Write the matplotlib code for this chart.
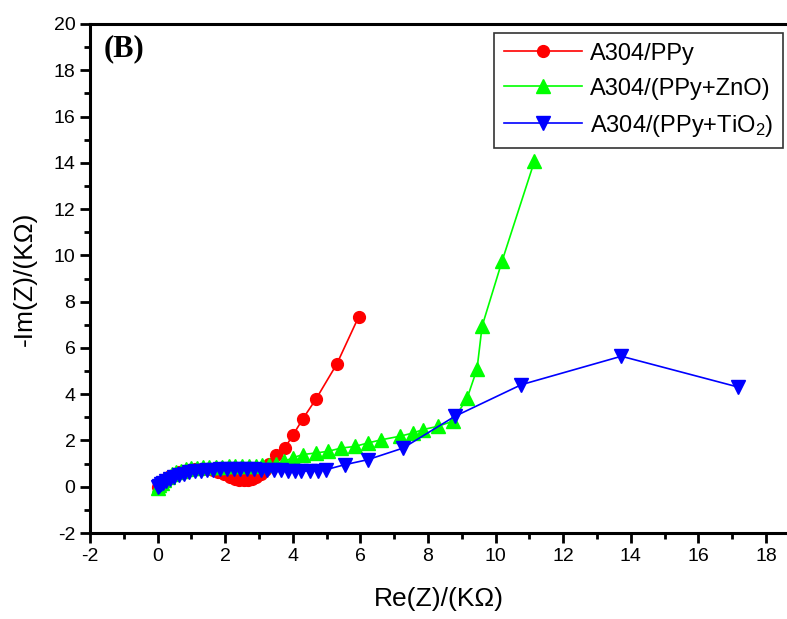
import matplotlib
matplotlib.use("Agg")
import matplotlib.pyplot as plt
from matplotlib.ticker import MultipleLocator

plt.rcParams['font.family'] = ['Liberation Sans', 'DejaVu Sans']
plt.rcParams['mathtext.default'] = 'regular'
plt.rcParams['axes.unicode_minus'] = False

# A304/PPy
ppy_x = [0.0, 0.05, 0.1, 0.18, 0.27, 0.38, 0.5, 0.63, 0.78, 0.93, 1.1, 1.27, 1.45, 1.63,
         1.8, 1.97, 2.13, 2.28, 2.42, 2.55, 2.68, 2.8, 2.92, 3.05, 3.18, 3.31, 3.51, 3.76,
         4.0, 4.29, 4.69, 5.3, 5.95]
ppy_y = [0.0, 0.1, 0.18, 0.28, 0.38, 0.48, 0.57, 0.64, 0.7, 0.74, 0.77, 0.78, 0.77, 0.72,
         0.64, 0.53, 0.42, 0.34, 0.29, 0.27, 0.28, 0.32, 0.4, 0.53, 0.74, 1.0, 1.38, 1.67,
         2.22, 2.92, 3.8, 5.3, 7.35]

# A304/(PPy+ZnO)
zno_x = [0.0, 0.05, 0.12, 0.2, 0.3, 0.42, 0.55, 0.7, 0.85, 1.0, 1.17, 1.35, 1.53, 1.72,
         1.9, 2.1, 2.3, 2.5, 2.7, 2.9, 3.1, 3.3, 3.5, 3.75, 4.0, 4.29, 4.69, 5.04, 5.43,
         5.83, 6.22, 6.62, 7.16, 7.55, 7.85, 8.29, 8.73, 9.16, 9.45, 9.6, 10.19, 11.15]
zno_y = [-0.05, 0.08, 0.18, 0.3, 0.42, 0.53, 0.62, 0.7, 0.76, 0.8, 0.83, 0.85, 0.86, 0.87,
         0.87, 0.88, 0.88, 0.88, 0.89, 0.9, 0.92, 0.95, 1.0, 1.1, 1.25, 1.39, 1.46, 1.53,
         1.67, 1.74, 1.89, 2.03, 2.18, 2.32, 2.47, 2.61, 2.83, 3.84, 5.09, 6.94, 9.75, 14.08]

# A304/(PPy+TiO2)
tio_x = [0.0, 0.04, 0.09, 0.16, 0.25, 0.36, 0.48, 0.62, 0.77, 0.93, 1.1, 1.28, 1.46, 1.65,
         1.85, 2.05, 2.25, 2.45, 2.65, 2.85, 3.05, 3.25, 3.45, 3.65, 3.85, 4.05, 4.25, 4.5,
         4.75, 4.99, 5.53, 6.22, 7.26, 8.79, 10.76, 13.72, 17.17]
tio_y = [0.0, 0.05, 0.1, 0.17, 0.25, 0.33, 0.41, 0.49, 0.56, 0.62, 0.66, 0.7, 0.72, 0.74,
         0.75, 0.76, 0.76, 0.76, 0.76, 0.75, 0.74, 0.73, 0.72, 0.71, 0.7, 0.69, 0.68, 0.68,
         0.7, 0.74, 0.95, 1.17, 1.67, 3.04, 4.41, 5.64, 4.31]

fig = plt.figure(figsize=(7.87, 6.19), dpi=100)
ax = fig.add_axes([90 / 787, 86 / 619, 1 - 90 / 787, 509 / 619])

ax.plot(ppy_x, ppy_y, color='#ff0000', marker='o', markersize=8.5, lw=1.2,
        label='A304/PPy')
ax.plot(zno_x, zno_y, color='#00ff00', marker='^', markersize=10, lw=1.2,
        label='A304/(PPy+ZnO)')
ax.plot(tio_x, tio_y, color='#0000ff', marker='v', markersize=10, lw=1.2,
        label='A304/(PPy+TiO$_2$)')

ax.set_xlim(-2, 18.62)
ax.set_ylim(-2, 20)
ax.xaxis.set_major_locator(MultipleLocator(2))
ax.xaxis.set_minor_locator(MultipleLocator(1))
ax.yaxis.set_major_locator(MultipleLocator(2))
ax.yaxis.set_minor_locator(MultipleLocator(1))

for s in ['left', 'bottom', 'top']:
    ax.spines[s].set_linewidth(2.2)
ax.spines['right'].set_visible(False)
ax.tick_params(which='major', direction='out', length=7, width=2, labelsize=14)
ax.tick_params(which='minor', direction='out', length=4, width=2)
ax.tick_params(top=False, right=False)

ax.set_xlabel('Re(Z)/(K\u03a9)', fontsize=19, labelpad=16)
ax.set_ylabel('-Im(Z)/(K\u03a9)', fontsize=19, labelpad=12)

ax.text(0.02, 0.98, '(B)', transform=ax.transAxes, fontsize=22, fontweight='bold',
        family='Liberation Serif', va='top', ha='left')

leg = ax.legend(loc='upper right', bbox_to_anchor=(0.994, 0.982), borderaxespad=0,
                fontsize=17, frameon=True, fancybox=False, edgecolor='black',
                handlelength=3.3, borderpad=0.4, labelspacing=0.55, handletextpad=0.35)
leg.get_frame().set_linewidth(1.2)

fig.savefig('out.png', dpi=100)
